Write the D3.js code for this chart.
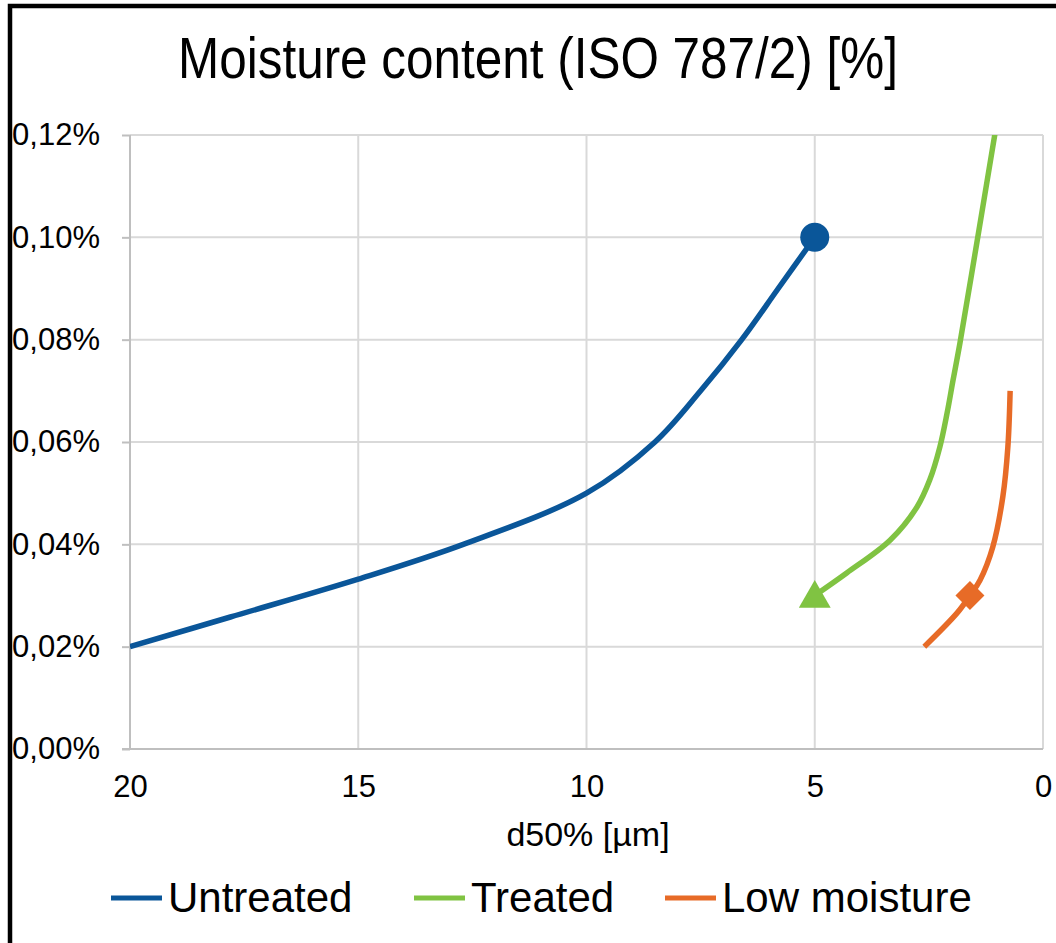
<!DOCTYPE html>
<html>
<head>
<meta charset="utf-8">
<script src="https://cdn.jsdelivr.net/npm/d3@7"></script>
<style>
  body { margin: 0; background: #fff; }
  text { font-family: Arial, "Liberation Sans", sans-serif; fill: #000; }
</style>
</head>
<body>
<div id="chart"></div>
<script>
var width = 1056;
var height = 943;

// d50% [µm] vs moisture content [%]
var untreated = [
    [20, 0.020], [17.8, 0.0258], [15, 0.0332], [12.7, 0.040], [10, 0.050],
    [8.5, 0.060], [7.5, 0.070], [6.6, 0.080], [5.8, 0.090], [5, 0.100]
];
var treated = [
    [5, 0.030], [4.3, 0.0344], [3.35, 0.0408], [2.76, 0.0473], [2.48, 0.0526],
    [2.26, 0.059], [2.1, 0.0657], [1.97, 0.0721], [1.82, 0.0793], [1.45, 0.0989], [1.05, 0.1204]
];
var lowMoisture = [
    [2.6, 0.020], [1.88, 0.0266], [1.6, 0.030], [1.38, 0.033], [1.1, 0.0395],
    [0.88, 0.0493], [0.77, 0.059], [0.72, 0.070]
];
var xTicks = [20, 15, 10, 5, 0];
var yTicks = [0, 0.02, 0.04, 0.06, 0.08, 0.10, 0.12];
var seriesNames = ["Untreated", "Treated", "Low moisture"];
var colors = ["#0a5699", "#80c342", "#e76b27"];

var plot = {left: 130, right: 1043, top: 135, bottom: 749};

var svg = d3.select("#chart")
    .append("svg")
    .attr("width", width)
    .attr("height", height);

var xScale = d3.scaleLinear().domain([20, 0]).range([plot.left, plot.right]);
var yScale = d3.scaleLinear().domain([0, 0.12]).range([plot.bottom, plot.top]);

// outer frame (only top/left visible in crop)
svg.append("rect")
    .attr("x", 10).attr("y", 6)
    .attr("width", 1200).attr("height", 1100)
    .attr("fill", "none")
    .attr("stroke", "#000")
    .attr("stroke-width", 4.5);

svg.append("text")
    .attr("x", 538).attr("y", 78)
    .attr("text-anchor", "middle")
    .attr("font-size", 57)
    .attr("textLength", 720)
    .attr("lengthAdjust", "spacingAndGlyphs")
    .text("Moisture content (ISO 787/2) [%]");

// grid
var grid = svg.append("g");
grid.selectAll(".hgrid")
    .data(yTicks.slice(1))
    .enter()
    .append("line")
    .attr("x1", plot.left).attr("x2", plot.right)
    .attr("y1", function (d) { return yScale(d); })
    .attr("y2", function (d) { return yScale(d); })
    .attr("stroke", "#d9d9d9")
    .attr("stroke-width", 2);
grid.selectAll(".vgrid")
    .data(xTicks.slice(1))
    .enter()
    .append("line")
    .attr("y1", plot.top).attr("y2", plot.bottom)
    .attr("x1", function (d) { return xScale(d); })
    .attr("x2", function (d) { return xScale(d); })
    .attr("stroke", "#d9d9d9")
    .attr("stroke-width", 2);

// axes
var yAxis = d3.axisLeft(yScale)
    .tickValues(yTicks)
    .tickSize(8)
    .tickPadding(22)
    .tickFormat(function (d) { return d.toFixed(2).replace(".", ",") + "%"; });
var xAxis = d3.axisBottom(xScale)
    .tickValues(xTicks)
    .tickSize(0)
    .tickPadding(26)
    .tickFormat(d3.format("d"));

var gy = svg.append("g")
    .attr("transform", "translate(" + plot.left + ",0)")
    .call(yAxis);
var gx = svg.append("g")
    .attr("transform", "translate(0," + plot.bottom + ")")
    .call(xAxis);

[gx, gy].forEach(function (g) {
    g.select(".domain").attr("stroke", "#bfbfbf").attr("stroke-width", 2);
    g.selectAll(".tick line").attr("stroke", "#bfbfbf").attr("stroke-width", 2);
    g.selectAll(".tick text")
        .attr("font-size", 31)
        .attr("font-family", "Arial, 'Liberation Sans', sans-serif")
        .attr("fill", "#000");
});
gy.select(".domain").attr("d", "M0," + plot.top + "V" + plot.bottom);
gx.select(".domain").attr("d", "M" + (plot.left - 8) + ",0H" + plot.right);

svg.append("text")
    .attr("x", 588).attr("y", 846)
    .attr("text-anchor", "middle")
    .attr("font-size", 34)
    .text("d50% [µm]");

// series
svg.append("clipPath").attr("id", "clip")
    .append("rect")
    .attr("x", plot.left).attr("y", plot.top)
    .attr("width", plot.right - plot.left).attr("height", plot.bottom - plot.top);

var line = d3.line()
    .x(function (d) { return xScale(d[0]); })
    .y(function (d) { return yScale(d[1]); })
    .curve(d3.curveCatmullRom.alpha(0.5));

var lines = svg.append("g").attr("clip-path", "url(#clip)");
[untreated, treated, lowMoisture].forEach(function (data, i) {
    lines.append("path")
        .datum(data)
        .attr("d", line)
        .attr("fill", "none")
        .attr("stroke", colors[i])
        .attr("stroke-width", 5.5)
        .attr("stroke-linecap", "butt");
});

// markers
var last = untreated[untreated.length - 1];
svg.append("path")
    .attr("d", d3.symbol().type(d3.symbolCircle).size(660)())
    .attr("transform", "translate(" + xScale(last[0]) + "," + yScale(last[1]) + ")")
    .attr("fill", colors[0]);
svg.append("path")
    .attr("d", d3.symbol().type(d3.symbolTriangle).size(440)())
    .attr("transform", "translate(" + xScale(treated[0][0]) + "," + (yScale(treated[0][1]) + 3) + ")")
    .attr("fill", colors[1]);
svg.append("path")
    .attr("d", d3.symbol().type(d3.symbolSquare).size(420)())
    .attr("transform", "translate(" + xScale(lowMoisture[2][0]) + "," + yScale(lowMoisture[2][1]) + ") rotate(45)")
    .attr("fill", colors[2]);

// legend
var legendX = [111, 414, 665];
var legend = svg.append("g");
seriesNames.forEach(function (name, i) {
    legend.append("line")
        .attr("x1", legendX[i]).attr("x2", legendX[i] + 51)
        .attr("y1", 898).attr("y2", 898)
        .attr("stroke", colors[i])
        .attr("stroke-width", 5);
    legend.append("text")
        .attr("x", legendX[i] + 57).attr("y", 912)
        .attr("font-size", 42)
        .text(name);
});
</script>
</body>
</html>
